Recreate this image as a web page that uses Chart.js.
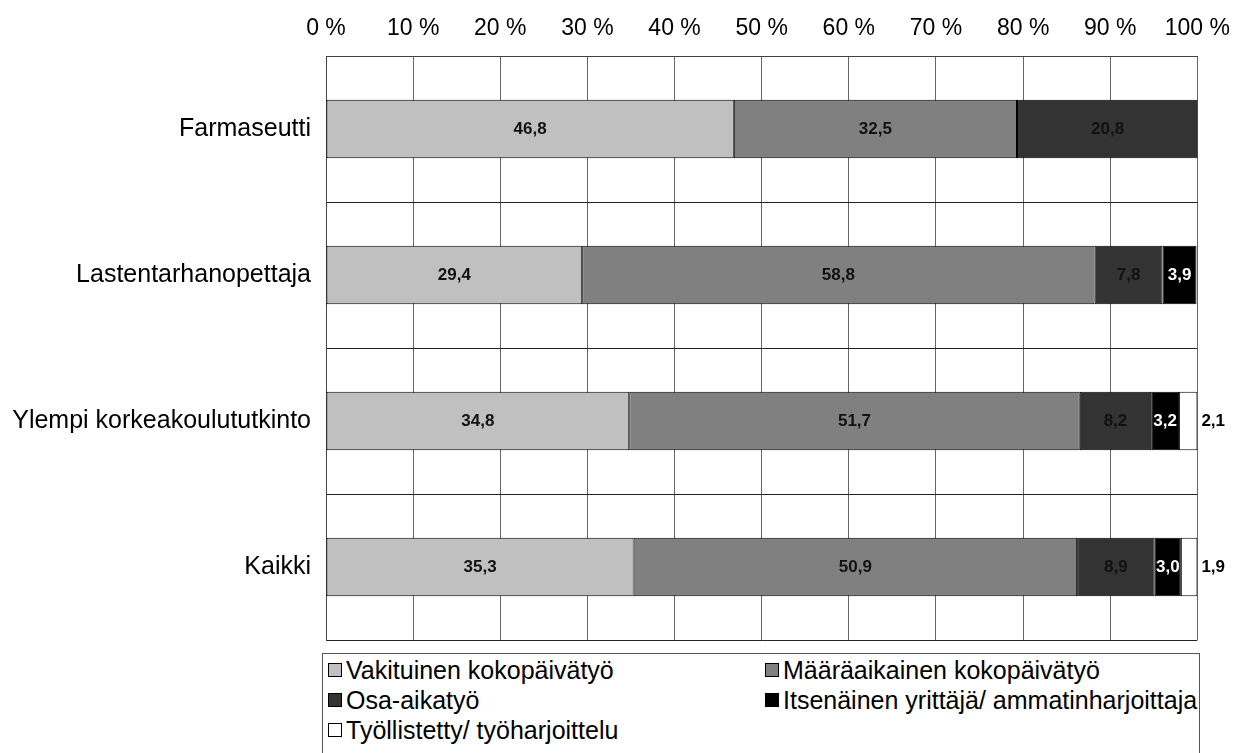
<!DOCTYPE html>
<html>
<head>
<meta charset="utf-8">
<script src="https://cdn.jsdelivr.net/npm/chart.js@4/dist/chart.umd.min.js"></script>
<style>
    html, body { margin: 0; padding: 0; background: #fff; overflow: hidden; }
    #wrap { position: relative; width: 1244px; height: 753px; }
    #legend {
        position: absolute; left: 322px; top: 653px; width: 878px; height: 110px;
        border: 1px solid #555; background: #fff;
        font-family: "Liberation Sans", Arial, sans-serif; font-size: 25px; color: #000;
        display: grid; grid-template-columns: 437px 439px; grid-auto-rows: 30px;
        padding-top: 1px; box-sizing: border-box;
    }
    #legend .item { display: flex; align-items: center; white-space: nowrap; }
    #legend .box { width: 14px; height: 14px; border: 1px solid #000; margin: 0 4px 0 5px; box-sizing: border-box; }
</style>
</head>
<body>
<div id="wrap">
    <canvas id="chart" width="1244" height="753"></canvas>
    <div id="legend"></div>
</div>
<script>
var categories = ["Farmaseutti", "Lastentarhanopettaja", "Ylempi korkeakoulututkinto", "Kaikki"];
var seriesNames = ["Vakituinen kokopäivätyö", "Määräaikainen kokopäivätyö", "Osa-aikatyö",
    "Itsenäinen yrittäjä/ ammatinharjoittaja", "Työllistetty/ työharjoittelu"];
var vakituinen = [46.8, 29.4, 34.8, 35.3];
var maaraaikainen = [32.5, 58.8, 51.7, 50.9];
var osaAika = [20.8, 7.8, 8.2, 8.9];
var yrittaja = [null, 3.9, 3.2, 3.0];
var tyollistetty = [null, null, 2.1, 1.9];
var tickValues = [0, 10, 20, 30, 40, 50, 60, 70, 80, 90, 100];
var colors = ["#c0c0c0", "#808080", "#333333", "#000000", "#ffffff"];

var font = '"Liberation Sans", Arial, sans-serif';
var allSeries = [vakituinen, maaraaikainen, osaAika, yrittaja, tyollistetty];

var datasets = allSeries.map(function (values, i) {
    return {
        label: seriesNames[i],
        data: values,
        backgroundColor: colors[i],
        borderColor: "#000",
        borderWidth: 1,
        borderSkipped: false,
        barPercentage: 0.4,
        categoryPercentage: 1
    };
});

var valueLabels = {
    id: "valueLabels",
    afterDatasetsDraw: function (chart) {
        var ctx = chart.ctx;
        ctx.save();
        ctx.font = "bold 17px " + font;
        ctx.textBaseline = "middle";
        chart.data.datasets.forEach(function (ds, i) {
            var meta = chart.getDatasetMeta(i);
            meta.data.forEach(function (bar, j) {
                var v = ds.data[j];
                if (v == null) return;
                var text = v.toFixed(1).replace(".", ",");
                if (i === 4) {
                    ctx.fillStyle = "#000";
                    ctx.textAlign = "left";
                    ctx.fillText(text, chart.chartArea.right + 4, bar.y);
                } else {
                    ctx.fillStyle = i === 3 ? "#fff" : "#111";
                    ctx.textAlign = "center";
                    ctx.fillText(text, (bar.x + bar.base) / 2, bar.y);
                }
            });
        });
        ctx.restore();
    }
};

new Chart(document.getElementById("chart"), {
    type: "bar",
    data: { labels: categories, datasets: datasets },
    plugins: [valueLabels],
    options: {
        indexAxis: "y",
        responsive: false,
        animation: false,
        events: [],
        layout: { padding: { top: 0, right: 44, bottom: 113, left: 0 } },
        plugins: { legend: { display: false }, tooltip: { enabled: false } },
        scales: {
            x: {
                position: "top",
                stacked: true,
                min: 0,
                max: 100,
                afterFit: function (scale) { scale.height = 56; },
                afterBuildTicks: function (scale) {
                    scale.ticks = tickValues.map(function (v) { return { value: v }; });
                },
                ticks: {
                    color: "#000",
                    padding: 14,
                    font: { family: font, size: 23 },
                    callback: function (v) { return v + " %"; }
                },
                grid: { color: "#666", drawTicks: false },
                border: { color: "#444" }
            },
            y: {
                stacked: true,
                afterFit: function (scale) { scale.width = 326; },
                ticks: {
                    color: "#000",
                    padding: 15,
                    font: { family: font, size: 25 }
                },
                grid: { color: "#222", drawTicks: false, offset: true },
                border: { color: "#444" }
            }
        }
    }
});

var legend = document.getElementById("legend");
seriesNames.forEach(function (name, i) {
    var item = document.createElement("div");
    item.className = "item";
    var box = document.createElement("span");
    box.className = "box";
    box.style.background = colors[i];
    item.appendChild(box);
    item.appendChild(document.createTextNode(name));
    legend.appendChild(item);
});
</script>
</body>
</html>
